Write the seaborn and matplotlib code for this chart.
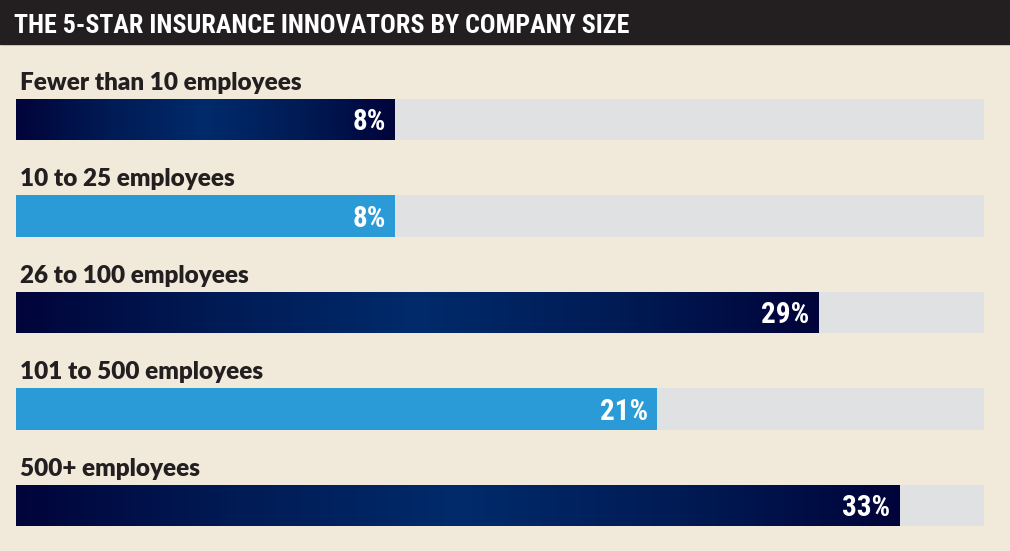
import numpy as np
import seaborn as sns
import matplotlib.pyplot as plt
from matplotlib import font_manager
from matplotlib.colors import LinearSegmentedColormap
from matplotlib.patches import Rectangle

# Data
categories = ["Fewer than 10 employees", "10 to 25 employees", "26 to 100 employees",
              "101 to 500 employees", "500+ employees"]
shares = [8, 8, 29, 21, 33]
bar_styles = ["gradient", "flat", "gradient", "flat", "gradient"]
title = "THE 5-STAR INSURANCE INNOVATORS BY COMPANY SIZE"

# Styling
BG = "#f1e9da"
TITLE_BG = "#231f20"
TRACK = "#e0e1e3"
LIGHT_BLUE = "#2a9bd6"
TEXT = "#231f20"
STUB = 10.75        # bars start left of zero (designer's offset)
TRACK_END = 37.2
W, H = 1010, 551

sns.set_theme(style="white")
names = {f.name for f in font_manager.fontManager.ttflist}
cond = next((n for n in ["Roboto Condensed", "Liberation Sans Narrow", "DejaVu Sans Condensed"]
             if n in names), "DejaVu Sans")
label_font = "Lato" if "Lato" in names else "DejaVu Sans"
plt.rcParams["font.family"] = [label_font, "DejaVu Sans"]

fig = plt.figure(figsize=(W / 100, H / 100), dpi=100)
fig.patch.set_facecolor(BG)

# title band
fig.add_artist(Rectangle((0, 1 - 44 / H), 1, 44 / H, transform=fig.transFigure,
                         color=TITLE_BG, zorder=0))
fig.text(14 / W, 1 - 33 / H, title, color="white", fontsize=18.7, fontweight="bold",
         family=[cond, "DejaVu Sans"], va="baseline", ha="left")

ax = fig.add_axes([16 / W, 0, 968 / W, 1 - 71 / H])
ax.set_facecolor(BG)
ax.axis("off")

y = np.arange(len(categories))
# grey tracks
ax.barh(y, TRACK_END + STUB, left=-STUB, height=0.425, color=TRACK, linewidth=0, zorder=1)
bars = ax.barh(y, np.array(shares) + STUB, left=-STUB, height=0.425, color=LIGHT_BLUE,
               linewidth=0, zorder=2)

# dark bars: navy gradient, dark at both ends, brighter in the middle
navy = LinearSegmentedColormap.from_list(
    "navy", ["#00043a", "#001b55", "#002b6b", "#001b55", "#00043a"])
grad = np.linspace(0, 1, 256).reshape(1, -1)
for bar, style in zip(bars, bar_styles):
    if style != "gradient":
        continue
    bar.set_facecolor("none")
    x0, y0 = bar.get_x(), bar.get_y()
    im = ax.imshow(grad, cmap=navy, aspect="auto", zorder=3,
                   extent=[x0, x0 + bar.get_width(), y0 + bar.get_height(), y0])
    im.set_clip_path(bar)

ax.set_xlim(-STUB, TRACK_END)
ax.set_ylim(4.4715, -0.5026)

for i, (cat, v) in enumerate(zip(categories, shares)):
    ax.text(4 / 968, i - 0.306, cat, transform=ax.get_yaxis_transform(),
            fontsize=17.5, fontweight="heavy", color=TEXT, va="baseline", ha="left")
    ax.annotate(f"{v}%", xy=(v, i + 0.109), xytext=(-9, 0), textcoords="offset pixels",
                fontsize=21, fontweight="bold", color="white", family=[cond, "DejaVu Sans"],
                va="baseline", ha="right", zorder=5)

fig.savefig("out.png", dpi=100, facecolor=BG)
